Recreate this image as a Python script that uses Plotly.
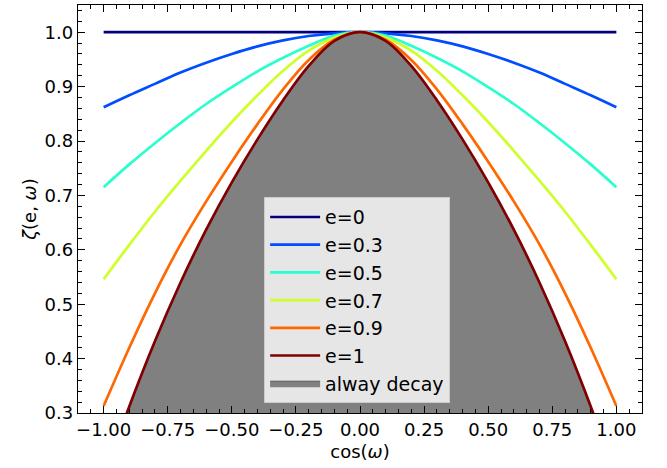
import plotly.graph_objects as go

# cos(omega) sample positions
cos_omega = [-1.0, -0.9, -0.8, -0.7, -0.6, -0.5, -0.4, -0.3, -0.2, -0.1, 0.0,
             0.1, 0.2, 0.3, 0.4, 0.5, 0.6, 0.7, 0.8, 0.9, 1.0]

zeta_e0 = [1.0] * 21
zeta_e03 = [0.862, 0.884, 0.905, 0.926, 0.944, 0.960, 0.974, 0.985, 0.993, 0.998, 1.0,
            0.998, 0.993, 0.985, 0.974, 0.960, 0.944, 0.926, 0.905, 0.884, 0.862]
zeta_e05 = [0.715, 0.757, 0.796, 0.833, 0.868, 0.899, 0.928, 0.953, 0.975, 0.994, 1.0,
            0.994, 0.975, 0.953, 0.928, 0.899, 0.868, 0.833, 0.796, 0.757, 0.715]
zeta_e07 = [0.546, 0.609, 0.670, 0.727, 0.782, 0.835, 0.884, 0.929, 0.966, 0.990, 1.0,
            0.990, 0.966, 0.929, 0.884, 0.835, 0.782, 0.727, 0.670, 0.609, 0.546]
zeta_e09 = [0.313, 0.420, 0.520, 0.610, 0.689, 0.762, 0.831, 0.895, 0.949, 0.986, 1.0,
            0.986, 0.949, 0.895, 0.831, 0.762, 0.689, 0.610, 0.520, 0.420, 0.313]
zeta_e1 = [0.179, 0.312, 0.432, 0.540, 0.637, 0.724, 0.803, 0.875, 0.938, 0.984, 1.0,
           0.984, 0.938, 0.875, 0.803, 0.724, 0.637, 0.540, 0.432, 0.312, 0.179]

series_names = ["e=0", "e=0.3", "e=0.5", "e=0.7", "e=0.9", "e=1"]
series_values = [zeta_e0, zeta_e03, zeta_e05, zeta_e07, zeta_e09, zeta_e1]
series_colors = ["#000080", "#004cff", "#29ffce", "#ceff29", "#ff6800", "#800000"]

x_ticks = [-1.0, -0.75, -0.5, -0.25, 0.0, 0.25, 0.5, 0.75, 1.0]
y_ticks = [0.3, 0.4, 0.5, 0.6, 0.7, 0.8, 0.9, 1.0]

FONT = "DejaVu Sans"

fig = go.Figure()

# shaded region under e=1 curve
fig.add_trace(go.Scatter(
    x=cos_omega, y=zeta_e1, mode="lines", name="alway decay",
    line=dict(color="#555555", width=1, shape="spline", smoothing=1),
    fill="tozeroy", fillcolor="#808080", legendrank=7, legendgroup="g7",
))

for i, (nm, vals, col) in enumerate(zip(series_names, series_values, series_colors)):
    fig.add_trace(go.Scatter(
        x=cos_omega, y=vals, mode="lines", name=nm,
        line=dict(color=col, width=2.7, shape="spline", smoothing=1),
        legendrank=i + 1, legendgroup=f"g{i+1}",
    ))

axis_common = dict(
    showgrid=False, zeroline=False, showline=True, linecolor="black", linewidth=1.3,
    mirror="allticks", ticks="inside", ticklen=7, tickwidth=1.2, tickcolor="black",
    tickfont=dict(family=FONT, size=18, color="black"), automargin=False,
)

fig.update_layout(
    width=667, height=468,
    margin=dict(l=78, r=25, t=5, b=55),
    paper_bgcolor="white", plot_bgcolor="white",
    font=dict(family=FONT, color="black"),
    xaxis=dict(
        range=[-1.1, 1.1], tickvals=x_ticks, tickformat=".2f",
        minor=dict(ticks="inside", ticklen=4, tickwidth=1, dtick=0.05, tick0=0, tickcolor="black"),
        title=dict(text="cos(<i>ω</i>)", font=dict(family=FONT, size=18), standoff=6),
        **axis_common,
    ),
    yaxis=dict(
        range=[0.3, 1.05], tickvals=y_ticks, tickformat=".1f",
        minor=dict(ticks="inside", ticklen=4, tickwidth=1, dtick=0.02, tick0=0, tickcolor="black"),
        title=dict(text="<i>ζ</i>(e, <i>ω</i>)", font=dict(family=FONT, size=18), standoff=3),
        **axis_common,
    ),
    legend=dict(
        x=0.33, y=0.529, xanchor="left", yanchor="top",
        bgcolor="rgba(255,255,255,0.8)", bordercolor="#cccccc", borderwidth=1,
        font=dict(family=FONT, size=19, color="black"),
        tracegroupgap=6.5, traceorder="normal", itemwidth=50,
    ),
    showlegend=True,
)

fig.write_html(
    "out.html",
    config={"displayModeBar": False},
    post_script="document.body.style.margin='0';document.body.style.padding='0';",
)
